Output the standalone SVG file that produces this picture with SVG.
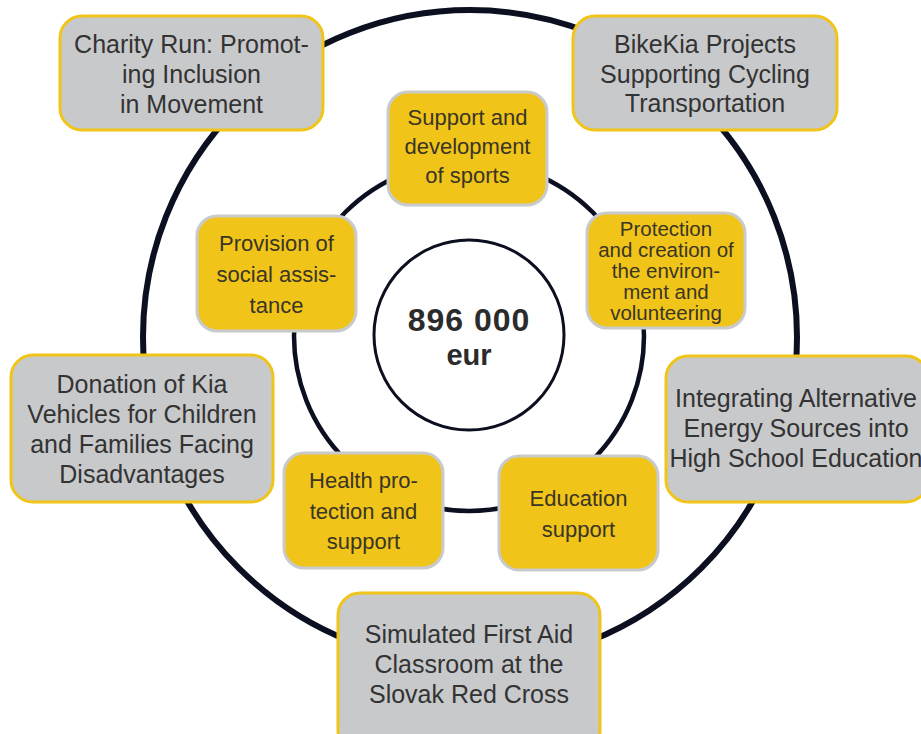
<svg xmlns="http://www.w3.org/2000/svg" width="921" height="734" viewBox="0 0 921 734">
<style>
.ring{fill:none;stroke:#0b0f1f}
.gbox{fill:#c8c9cb;stroke:#f0c419;stroke-width:3}
.ybox{fill:#f0c419;stroke:#c9cacc;stroke-width:3}
.gt{font-family:"Liberation Sans",Arial,sans-serif;font-size:25px;fill:#333333;text-anchor:middle}
.yt{font-family:"Liberation Sans",Arial,sans-serif;font-size:22px;fill:#3a3524;text-anchor:middle}
.yts{font-size:20.5px}
.ct{font-family:"Liberation Sans",Arial,sans-serif;font-weight:bold;fill:#2b2b2b;text-anchor:middle}
</style>
<rect width="921" height="734" fill="#ffffff"/>
<g id="connectors">
<circle class="ring" cx="470" cy="337" r="327" stroke-width="6"/>
<circle class="ring" cx="469" cy="336" r="175" stroke-width="4.5"/>
</g>
<g id="center">
<circle cx="469" cy="335" r="95" fill="#ffffff" stroke="#0b0f1f" stroke-width="3"/>
<text class="ct" x="469" y="331" font-size="32" letter-spacing="1">896 000</text>
<text class="ct" x="469" y="365" font-size="29">eur</text>
</g>
<g id="charity-run">
<rect class="gbox" x="60" y="16" width="263" height="114" rx="22"/>
<text class="gt" x="191.5" y="53">Charity Run: Promot-</text>
<text class="gt" x="191.5" y="83">ing Inclusion</text>
<text class="gt" x="191.5" y="113">in Movement</text>
</g>
<g id="bikekia">
<rect class="gbox" x="573" y="16" width="264" height="114" rx="22"/>
<text class="gt" x="705" y="53">BikeKia Projects</text>
<text class="gt" x="705" y="83">Supporting Cycling</text>
<text class="gt" x="705" y="112">Transportation</text>
</g>
<g id="donation">
<rect class="gbox" x="11" y="355" width="262" height="147" rx="22"/>
<text class="gt" x="142" y="393">Donation of Kia</text>
<text class="gt" x="142" y="423">Vehicles for Children</text>
<text class="gt" x="142" y="453">and Families Facing</text>
<text class="gt" x="142" y="483">Disadvantages</text>
</g>
<g id="integrating">
<rect class="gbox" x="666" y="356" width="262" height="146" rx="22"/>
<text class="gt" x="796" y="407">Integrating Alternative</text>
<text class="gt" x="796" y="437">Energy Sources into</text>
<text class="gt" x="796" y="467">High School Education</text>
</g>
<g id="simulated">
<rect class="gbox" x="338" y="593" width="262" height="160" rx="22"/>
<text class="gt" x="469" y="643">Simulated First Aid</text>
<text class="gt" x="469" y="673">Classroom at the</text>
<text class="gt" x="469" y="703">Slovak Red Cross</text>
</g>
<g id="sports">
<rect class="ybox" x="388" y="92" width="159" height="113" rx="20"/>
<text class="yt" x="467.5" y="125">Support and</text>
<text class="yt" x="467.5" y="154">development</text>
<text class="yt" x="467.5" y="183">of sports</text>
</g>
<g id="environment">
<rect class="ybox" x="587" y="213" width="158" height="115" rx="20"/>
<text class="yt yts" x="666" y="236">Protection</text>
<text class="yt yts" x="666" y="257">and creation of</text>
<text class="yt yts" x="666" y="278">the environ-</text>
<text class="yt yts" x="666" y="299">ment and</text>
<text class="yt yts" x="666" y="320">volunteering</text>
</g>
<g id="social">
<rect class="ybox" x="197" y="216" width="159" height="115" rx="20"/>
<text class="yt" x="276.5" y="251">Provision of</text>
<text class="yt" x="276.5" y="282">social assis-</text>
<text class="yt" x="276.5" y="313">tance</text>
</g>
<g id="health">
<rect class="ybox" x="284" y="453" width="159" height="115" rx="20"/>
<text class="yt" x="363.5" y="488">Health pro-</text>
<text class="yt" x="363.5" y="519">tection and</text>
<text class="yt" x="363.5" y="549">support</text>
</g>
<g id="education">
<rect class="ybox" x="499" y="456" width="159" height="114" rx="20"/>
<text class="yt" x="578.5" y="506">Education</text>
<text class="yt" x="578.5" y="537">support</text>
</g>
</svg>
